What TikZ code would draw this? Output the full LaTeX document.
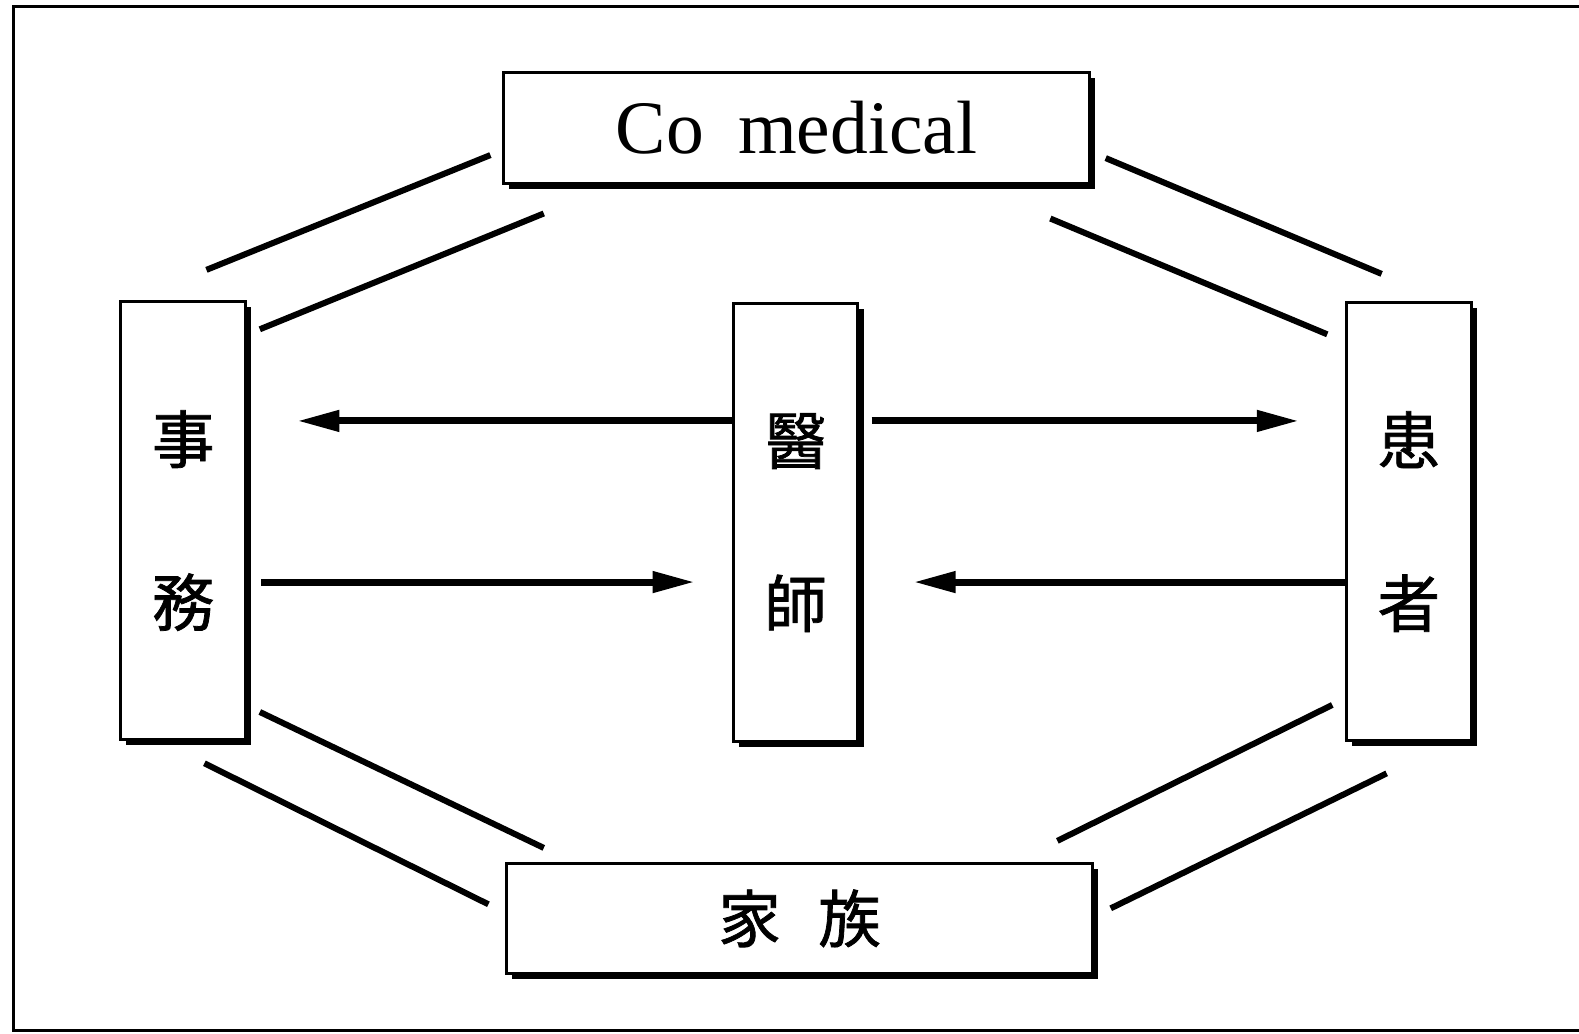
\documentclass[tikz,border=0pt]{standalone}
\usepackage{fontspec}
\setmainfont{Liberation Serif}
\newfontfamily\cjk[FakeBold=1.2]{Noto Sans CJK JP}
\usetikzlibrary{shadows,arrows.meta}
\begin{document}
\begin{tikzpicture}[x=0.5pt,y=-0.5pt,
  box/.style={draw, line width=1.5pt, fill=white, inner sep=0pt,
    drop shadow={shadow xshift=2.8pt, shadow yshift=-2.8pt, fill=black, opacity=1}},
  tallbox/.style={box, minimum width=62pt, minimum height=217.5pt, align=center,
    font=\cjk\fontsize{31}{81}\selectfont},
  widebox/.style={box, minimum width=291pt, minimum height=55pt},
  link/.style={line width=3pt},
  arr/.style={line width=3.5pt, -{Triangle[length=21pt,width=10pt]}}]
\useasboundingbox (0,0) rectangle (1568,1026);
\draw[line width=1.5pt] (1568,6) -- (13,6) -- (13,1023) -- (1568,1023);

\node[widebox, font=\fontsize{37.5}{37.5}\selectfont] (co) at (791,127) {Co\hspace{0.45em}medical};
\node[widebox, font=\cjk\fontsize{31}{31}\selectfont] (fam) at (794,912) {家\hspace{0.6em}族};
\node[tallbox] (jim) at (182,517) {事\\務};
\node[tallbox] (doc) at (790,519) {醫\\師};
\node[tallbox] (pat) at (1399,518) {患\\者};

% diagonal double lines
\coordinate (tl1a) at (205,268); \coordinate (tl1b) at (487,154);
\coordinate (tl2a) at (258,327); \coordinate (tl2b) at (540,212);
\coordinate (tr1a) at (1098,157); \coordinate (tr1b) at (1372,272);
\coordinate (tr2a) at (1043,217); \coordinate (tr2b) at (1318,332);
\coordinate (bl1a) at (258,707); \coordinate (bl1b) at (540,842);
\coordinate (bl2a) at (203,758); \coordinate (bl2b) at (485,898);
\coordinate (br1a) at (1050,835); \coordinate (br1b) at (1323,700);
\coordinate (br2a) at (1103,902); \coordinate (br2b) at (1377,768);
\draw[link] (tl1a) -- (tl1b);
\draw[link] (tl2a) -- (tl2b);
\draw[link] (tr1a) -- (tr1b);
\draw[link] (tr2a) -- (tr2b);
\draw[link] (bl1a) -- (bl1b);
\draw[link] (bl2a) -- (bl2b);
\draw[link] (br1a) -- (br1b);
\draw[link] (br2a) -- (br2b);

% arrows
\coordinate (tipL) at (295,418);
\coordinate (tipR) at (1290,418);
\coordinate (tipD1) at (690,578);
\coordinate (tipD2) at (907,578);
\draw[arr] (doc.west |- tipL) -- (tipL);
\draw[arr] ([xshift=6pt]doc.east |- tipR) -- (tipR);
\draw[arr] ([xshift=7pt]jim.east |- tipD1) -- (tipD1);
\draw[arr] (pat.west |- tipD2) -- (tipD2);
\end{tikzpicture}
\end{document}
